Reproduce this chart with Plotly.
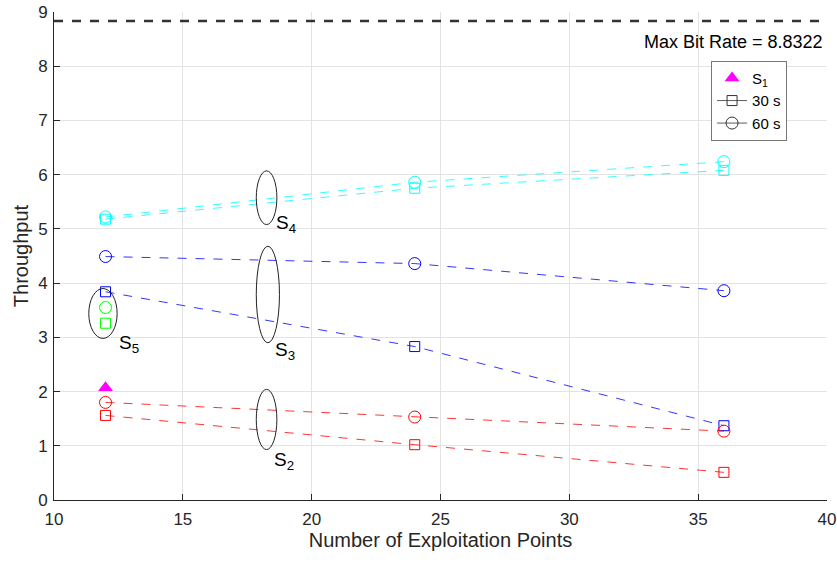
import plotly.graph_objects as go

points = [12, 24, 36]
s4_60 = [5.22, 5.86, 6.24]
s4_30 = [5.18, 5.75, 6.08]
s3_60 = [4.49, 4.36, 3.86]
s3_30 = [3.84, 2.83, 1.37]
s2_60 = [1.80, 1.53, 1.27]
s2_30 = [1.56, 1.02, 0.51]
s5_x = [12]
s5_60 = [3.55]
s5_30 = [3.26]
s1_x = [12]
s1_y = [2.07]
max_rate = 8.8322

CYAN = "#00FFFF"
BLUE = "#0000FF"
RED = "#FF0000"
GREEN = "#00FF00"
MAGENTA = "#FF00FF"

fig = go.Figure()

def series(x, y, color, symbol, dash=True):
    fig.add_trace(go.Scatter(
        x=x, y=y, mode="lines+markers" if dash else "markers",
        line=dict(color=color, width=0.8, dash="dash"),
        marker=dict(symbol=symbol, size=12 if "circle" in symbol else 10,
                    color=color, line=dict(color=color, width=1)),
        showlegend=False, hoverinfo="skip"))

series(points, s4_60, CYAN, "circle-open")
series(points, s4_30, CYAN, "square-open")
series(points, s3_60, BLUE, "circle-open")
series(points, s3_30, BLUE, "square-open")
series(points, s2_60, RED, "circle-open")
series(points, s2_30, RED, "square-open")
series(s5_x, s5_60, GREEN, "circle-open", dash=False)
series(s5_x, s5_30, GREEN, "square-open", dash=False)

fig.add_trace(go.Scatter(x=s1_x, y=s1_y, mode="markers",
                         marker=dict(symbol="triangle-up", size=13, color=MAGENTA),
                         name="S<sub>1</sub>", showlegend=True))
fig.add_trace(go.Scatter(x=[None], y=[None], mode="lines+markers",
                         line=dict(color="#333333", width=0.8),
                         marker=dict(symbol="square-open", size=10, color="#333333", line=dict(width=1)),
                         name="30 s"))
fig.add_trace(go.Scatter(x=[None], y=[None], mode="lines+markers",
                         line=dict(color="#333333", width=0.8),
                         marker=dict(symbol="circle-open", size=12, color="#333333", line=dict(width=1)),
                         name="60 s"))

# Max bit rate line
fig.add_shape(type="line", xref="paper", yref="y", x0=0, x1=1, y0=max_rate, y1=max_rate,
              line=dict(color="#333333", width=2.5, dash="dash"))
fig.add_annotation(xref="paper", yref="y", x=0.997, y=max_rate - 0.17, text="Max Bit Rate = 8.8322",
                   showarrow=False, xanchor="right", yanchor="top",
                   font=dict(size=18, color="black"))

# Ellipses marking groups
ellipses = [
    (17.85, 18.65, 0.93, 2.04, "S<sub>2</sub>", 18.47, 0.97),
    (17.85, 18.75, 2.90, 4.68, "S<sub>3</sub>", 18.5, 3.0),
    (17.85, 18.65, 5.08, 6.07, "S<sub>4</sub>", 18.55, 5.34),
    (11.35, 12.45, 2.98, 3.90, "S<sub>5</sub>", 12.45, 3.13),
]
for x0, x1, y0, y1, lab, lx, ly in ellipses:
    fig.add_shape(type="circle", xref="x", yref="y", x0=x0, x1=x1, y0=y0, y1=y1,
                  line=dict(color="#222222", width=1))
    fig.add_annotation(x=lx, y=ly, text=lab, showarrow=False, xanchor="left", yanchor="top",
                       font=dict(size=19, color="black"))

fig.update_layout(
    width=837, height=562,
    margin=dict(l=54, r=10, t=12, b=62, autoexpand=False),
    paper_bgcolor="white", plot_bgcolor="white",
    font=dict(family="Liberation Sans, Arial, sans-serif", size=17, color="#262626"),
    showlegend=True,
    legend=dict(x=0.85, y=0.90, xanchor="left", yanchor="top",
                bgcolor="white", bordercolor="#777777", borderwidth=1,
                font=dict(size=15, color="black"), tracegroupgap=0, itemwidth=30),
)
fig.update_xaxes(range=[10, 40], dtick=5, tick0=10, showgrid=True, gridcolor="#e3e3e3",
                 showline=True, mirror=False, linecolor="#262626", linewidth=1,
                 ticks="inside", ticklen=6, tickcolor="#262626", zeroline=False, automargin=False,
                 ticklabelstandoff=4,
                 title=dict(text="Number of Exploitation Points", font=dict(size=20), standoff=2),
                 tickfont=dict(size=17))
fig.update_yaxes(range=[0, 9], dtick=1, showgrid=True, gridcolor="#e3e3e3",
                 showline=True, mirror=False, linecolor="#262626", linewidth=1,
                 ticks="inside", ticklen=6, tickcolor="#262626", zeroline=False, automargin=False,
                 ticklabelstandoff=2,
                 title=dict(text="Throughput", font=dict(size=20), standoff=4),
                 tickfont=dict(size=17))

fig.write_html("out.html")
